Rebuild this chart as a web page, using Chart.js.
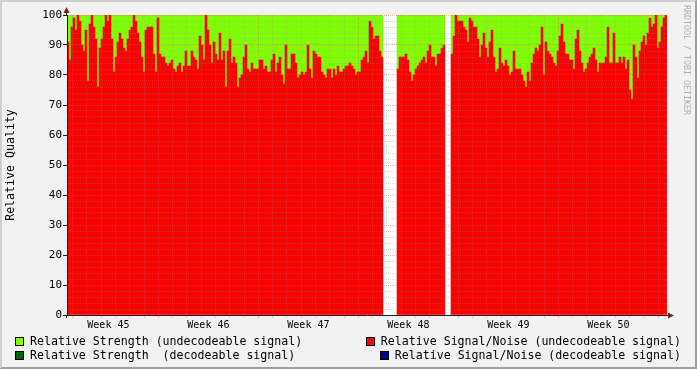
<!DOCTYPE html>
<html>
<head>
<meta charset="utf-8">
<script src="https://cdn.jsdelivr.net/npm/chart.js@4/dist/chart.umd.min.js"></script>
<style>
  html, body { margin: 0; padding: 0; background: #f2f2f2; }
  #wrap { position: relative; width: 697px; height: 369px; overflow: hidden; }
  #frame {
    position: absolute; left: 0; top: 0; width: 697px; height: 369px; box-sizing: border-box;
    border-top: 2px solid #cfcfcf; border-left: 2px solid #cfcfcf;
    border-right: 2px solid #9e9e9e; border-bottom: 2px solid #9e9e9e;
    pointer-events: none;
  }
  canvas { position: absolute; left: 0; top: 0; }
  .row { position: absolute; left: 0; width: 697px; height: 14px; }
  .item {
    position: absolute; top: 0; padding-left: 15px;
    font: 11.6px 'DejaVu Sans Mono', monospace; line-height: 14px; color: #000; white-space: pre;
  }
  .swatch { position: absolute; left: 0; top: 3px; width: 7px; height: 7px; border: 1px solid #000; }
</style>
</head>
<body>
<div id="wrap">
  <canvas id="chart" width="697" height="369"></canvas>
  <div id="legend"></div>
  <div id="frame"></div>
</div>
<script>
// ------------------------
// Data (one sample = 2px column of the original graph)
// ------------------------

// Relative Signal/Noise (undecodeable signal), null = no data
const snrUndecodeable = [
  91, 85, 96, 99, 95, 100, 98, 90, 88, 95, 78, 97, 100, 96, 92, 76, 89, 92, 96, 100,
  98, 100, 92, 81, 86, 91, 94, 92, 89, 88, 92, 95, 96, 100, 98, 94, 91, 86, 81, 95,
  96, 96, 96, 87, 81, 99, 87, 86, 86, 84,
  83, 84, 85, 82, 81, 83, 84, 81, 83, 88, 83, 83, 88, 86, 85, 82, 93, 90, 85, 100,
  95, 90, 84, 91, 87, 85, 94, 85, 88, 76, 88, 92, 84, 86, 84, 76, 79, 80, 86, 90,
  82, 81, 84, 82, 82, 82, 85, 85, 82, 83,
  81, 81, 85, 87, 81, 84, 86, 80, 77, 90, 82, 82, 87, 87, 84, 79, 80, 81, 80, 81,
  90, 82, 79, 88, 87, 86, 86, 81, 80, 79, 82, 82, 79, 82, 80, 83, 81, 81, 82, 83,
  83, 84, 83, 82, 80, 81, 81, 85, 86, 88,
  84, 98, 96, 92, 93, 93, 88, 86, null, null, null, null, null, null, null, 82, 86, 86, 86, 87,
  85, 81, 78, 80, 82, 83, 84, 85, 86, 84, 88, 90, 86, 86, 83, 87, 87, 89, 90, null,
  null, null, 87, 93, 100, 98, 98, 98, 96, 95,
  91, 99, 98, 96, 96, 92, 86, 90, 94, 89, 86, 91, 95, 86, 81, 82, 89, 84, 83, 85,
  83, 80, 81, 88, 82, 82, 82, 80, 78, 76, 81, 78, 84, 87, 89, 88, 90, 96, 80, 91,
  88, 87, 86, 84, 83, 88, 93, 97, 91, 87,
  87, 85, 85, 82, 92, 95, 88, 84, 81, 82, 84, 86, 87, 89, 85, 81, 84, 84, 84, 86,
  96, 84, 84, 94, 84, 84, 86, 84, 86, 82, 85, 75, 72, 90, 86, 79, 88, 91, 93, 90,
  94, 99, 96, 97, 100, 89, 91, 96, 99, 100
];

// Relative Strength (undecodeable) is stacked on top and always reaches 100
const strengthUndecodeable = snrUndecodeable.map(v => (v === null ? null : 100 - v));

// decodeable series have no data in this period
const snrDecodeable = [];
const strengthDecodeable = [];

const weekLabels = ['Week 45', 'Week 46', 'Week 47', 'Week 48', 'Week 49', 'Week 50'];
const seriesNames = [
  'Relative Signal/Noise (undecodeable signal)',
  'Relative Strength (undecodeable signal)',
  'Relative Signal/Noise (decodeable signal)',
  'Relative Strength  (decodeable signal)'
];

// ------------------------
// Axis setup
// ------------------------

const sampleCount = snrUndecodeable.length;
const firstWeekEdge = 45.7;      // sample position of the first week boundary
const samplesPerWeek = 50;
const samplesPerDay = samplesPerWeek / 7;

const xTicks = [];
for (let j = -7; j <= 40; j++) {
  const v = firstWeekEdge + j * samplesPerDay;
  if (v > 0 && v < sampleCount) xTicks.push({ value: v, kind: j % 7 === 0 ? 'major' : 'minor' });
}
weekLabels.forEach((text, k) => {
  xTicks.push({ value: firstWeekEdge - samplesPerWeek / 2 + k * samplesPerWeek, kind: 'label', text });
});
xTicks.sort((a, b) => a.value - b.value);

const yTicks = [];
for (let v = 0; v <= 100; v += 2) yTicks.push({ value: v, kind: v % 10 === 0 ? 'major' : 'minor' });

const MINOR = 'rgba(143,143,143,0.28)';
const MAJOR = 'rgba(222,79,79,0.42)';
const NONE = 'rgba(0,0,0,0)';
const kindOf = c => (c.tick ? c.tick.kind : 'minor');

// ------------------------
// Plugins
// ------------------------

const canvasBg = {
  id: 'canvasBg',
  beforeDraw(chart) {
    const { ctx, chartArea: a } = chart;
    ctx.save();
    ctx.fillStyle = '#ffffff';
    ctx.fillRect(a.left, a.top, a.right - a.left, a.bottom - a.top);
    ctx.restore();
  }
};

const arrows = {
  id: 'arrows',
  afterDraw(chart) {
    const { ctx, chartArea: a } = chart;
    ctx.save();
    ctx.strokeStyle = '#1f1f1f';
    ctx.lineWidth = 1;
    ctx.beginPath();
    ctx.moveTo(a.right, a.bottom + 0.5);
    ctx.lineTo(a.right + 3, a.bottom + 0.5);
    ctx.moveTo(a.left - 0.5, a.top);
    ctx.lineTo(a.left - 0.5, a.top - 3);
    ctx.moveTo(a.left - 0.5, a.bottom);
    ctx.lineTo(a.left - 0.5, a.bottom + 3);
    ctx.stroke();
    ctx.fillStyle = '#7f1f1f';
    ctx.beginPath();
    ctx.moveTo(a.right + 1, a.bottom - 2.5);
    ctx.lineTo(a.right + 7, a.bottom + 0.5);
    ctx.lineTo(a.right + 1, a.bottom + 3.5);
    ctx.fill();
    ctx.beginPath();
    ctx.moveTo(a.left - 3.5, a.top - 2);
    ctx.lineTo(a.left - 0.5, a.top - 8);
    ctx.lineTo(a.left + 2.5, a.top - 2);
    ctx.fill();
    ctx.restore();
  }
};

const watermark = {
  id: 'watermark',
  afterDraw(chart) {
    const ctx = chart.ctx;
    ctx.save();
    ctx.translate(686, 5);
    ctx.rotate(Math.PI / 2);
    ctx.font = '8.3px "DejaVu Sans Mono"';
    ctx.fillStyle = '#b0b0b0';
    ctx.textBaseline = 'middle';
    ctx.fillText('RRDTOOL / TOBI OETIKER', 0, 0);
    ctx.restore();
  }
};

// ------------------------
// Chart
// ------------------------

const labels = snrUndecodeable.map((_, i) => i + 0.5);

const chart = new Chart(document.getElementById('chart'), {
  type: 'bar',
  data: {
    labels,
    datasets: [
      { label: seriesNames[0], data: snrUndecodeable, backgroundColor: '#ff0000' },
      { label: seriesNames[1], data: strengthUndecodeable, backgroundColor: '#80ff00' },
      { label: seriesNames[2], data: snrDecodeable, backgroundColor: '#000090' },
      { label: seriesNames[3], data: strengthDecodeable, backgroundColor: '#006400' }
    ]
  },
  options: {
    responsive: false,
    animation: false,
    events: [],
    layout: { padding: { top: 15, right: 30, bottom: 0, left: 0 } },
    datasets: {
      bar: { barPercentage: 1, categoryPercentage: 1, borderWidth: 0, inflateAmount: 0.3 }
    },
    plugins: { legend: { display: false }, tooltip: { enabled: false } },
    scales: {
      x: {
        type: 'linear',
        min: 0,
        max: sampleCount,
        offset: false,
        stacked: true,
        afterBuildTicks: s => { s.ticks = xTicks; },
        afterFit: s => { s.height = 54; },
        grid: {
          offset: false,
          z: 1,
          color: c => (kindOf(c) === 'major' ? MAJOR : kindOf(c) === 'minor' ? MINOR : NONE),
          tickColor: c => (kindOf(c) === 'major' ? MAJOR : kindOf(c) === 'minor' ? MINOR : NONE),
          tickLength: 3
        },
        border: { z: 2, color: '#1f1f1f', dash: [1, 1] },
        ticks: {
          autoSkip: false,
          maxRotation: 0,
          minRotation: 0,
          padding: 1,
          color: '#000',
          font: { family: 'DejaVu Sans Mono', size: 10 },
          callback: (v, i, t) => t[i].text || ''
        }
      },
      y: {
        min: 0,
        max: 100,
        stacked: true,
        afterBuildTicks: s => { s.ticks = yTicks; },
        afterFit: s => { s.width = 67; },
        grid: {
          z: 1,
          color: c => (kindOf(c) === 'major' ? MAJOR : MINOR),
          tickColor: c => (kindOf(c) === 'major' ? '#1f1f1f' : NONE),
          tickLength: 4
        },
        border: { z: 2, color: '#1f1f1f', dash: [1, 1] },
        ticks: {
          autoSkip: false,
          padding: 1,
          color: '#000',
          font: { family: 'DejaVu Sans Mono', size: 11 },
          callback: (v, i, t) => (t[i].kind === 'major' ? String(v) : '')
        },
        title: {
          display: true,
          text: 'Relative Quality',
          color: '#000',
          font: { family: 'DejaVu Sans Mono', size: 11.6 },
          padding: { top: 4, bottom: 0 }
        }
      }
    }
  },
  plugins: [canvasBg, arrows, watermark]
});

// ------------------------
// Legend (two columns, right one right-aligned)
// ------------------------

const legendEl = document.getElementById('legend');
const legendRows = [[1, 0], [3, 2]];   // [left dataset, right dataset]
legendRows.forEach((pair, r) => {
  const row = document.createElement('div');
  row.className = 'row';
  row.style.top = (334 + r * 14) + 'px';
  pair.forEach((dsIndex, col) => {
    const ds = chart.data.datasets[dsIndex];
    const item = document.createElement('div');
    item.className = 'item';
    if (col === 0) item.style.left = '15px';
    else item.style.right = '16px';
    item.innerHTML = `<span class="swatch" style="background:${ds.backgroundColor}"></span>`;
    item.appendChild(document.createTextNode(ds.label));
    row.appendChild(item);
  });
  legendEl.appendChild(row);
});
</script>
</body>
</html>
